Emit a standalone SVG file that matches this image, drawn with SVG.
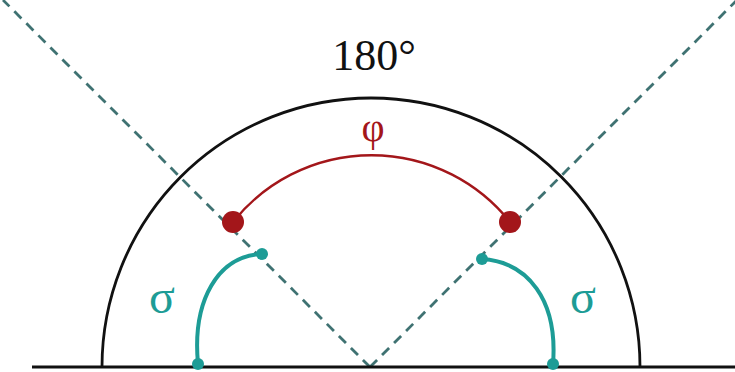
<svg xmlns="http://www.w3.org/2000/svg" width="735" height="372" viewBox="0 0 735 372">
<style>
.blk{fill:none;stroke:#111;stroke-width:2.8}
.dash{fill:none;stroke:#3f7272;stroke-width:2.8;stroke-dasharray:10 7}
.red{fill:none;stroke:#a3161a;stroke-width:2.4}
.reddot{fill:#a3161a}
.teal{fill:none;stroke:#1d9c96;stroke-width:4}
.tealdot{fill:#1d9c96}
.lbl{font-family:"Liberation Serif","Times New Roman",serif;text-anchor:middle}
</style>
<rect width="735" height="372" fill="#fff"/>
<g id="connectors">
<line class="dash" x1="370" y1="367" x2="3" y2="0"/>
<line class="dash" x1="370" y1="367" x2="737" y2="0"/>
</g>
<g id="semicircle">
<path class="blk" d="M102,367 A269,269 0 0 1 640,367"/>
<line class="blk" x1="32" y1="367" x2="735" y2="367"/>
<text class="lbl" x="374" y="70" font-size="44" fill="#111">180°</text>
</g>
<g id="phi">
<path class="red" d="M233,222 A177,177 0 0 1 510,222"/>
<circle class="reddot" cx="233" cy="222" r="11"/>
<circle class="reddot" cx="510" cy="222" r="11"/>
<text class="lbl" x="373" y="141" font-size="40" fill="#a3161a">φ</text>
</g>
<g id="sigma-left">
<path class="teal" d="M262,254 C218,256 192,300 198,364"/>
<circle class="tealdot" cx="262" cy="254" r="6"/>
<circle class="tealdot" cx="198" cy="364" r="6"/>
<text class="lbl" x="162" y="313" font-size="48" fill="#1d9c96">σ</text>
</g>
<g id="sigma-right">
<path class="teal" d="M482,259 C528,262 558,300 553,364"/>
<circle class="tealdot" cx="482" cy="259" r="6"/>
<circle class="tealdot" cx="553" cy="364" r="6"/>
<text class="lbl" x="583" y="313" font-size="48" fill="#1d9c96">σ</text>
</g>
</svg>
